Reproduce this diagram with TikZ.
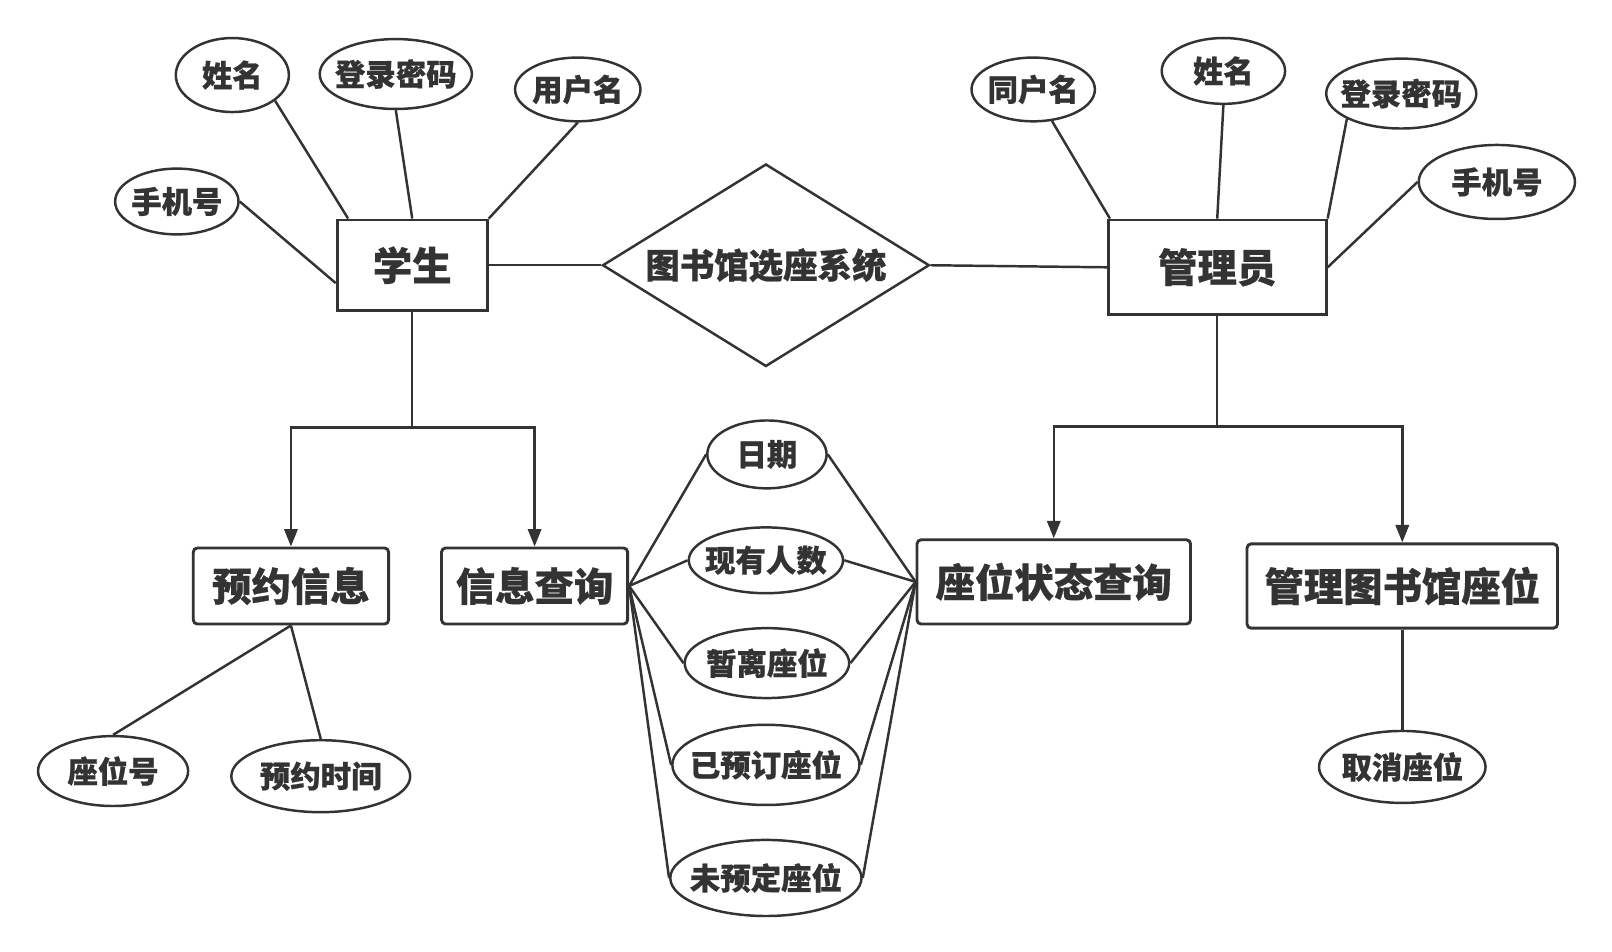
\documentclass[tikz,border=0pt]{standalone}
\usepackage{fontspec}
\newfontfamily\cjk{Noto Sans CJK SC}[BoldFeatures={FakeBold=0.6}]
\usetikzlibrary{shapes.geometric,arrows.meta}
\definecolor{ink}{HTML}{333333}
\newcommand\zb[1]{\makebox[0pt][c]{#1}}
\begin{document}
\begin{tikzpicture}[x=1pt,y=-1pt,
  attr/.style={ellipse, draw=ink, line width=2.4pt, inner sep=0pt, text=ink,
    font=\cjk\bfseries\fontsize{29.6}{29.6}\selectfont},
  ent/.style={rectangle, draw=ink, line width=2.8pt, inner sep=0pt, text=ink,
    font=\cjk\bfseries\fontsize{38.3}{38.3}\selectfont},
  fnbox/.style={ent, rounded corners=4pt},
  link/.style={draw=ink, line width=2.4pt},
  arr/.style={link, -{Triangle[length=17pt,width=13pt]}}]
\fill[white] (0,0) rectangle (1568,926);
\useasboundingbox (0,0) rectangle (1568,926);

% entities
\node[ent, minimum width=146pt, minimum height=88pt] (stu) at (401,258) {学生};
\node[ent, minimum width=212pt, minimum height=92pt] (adm) at (1184,260) {管理员};
\node[diamond, draw=ink, line width=2.4pt, inner sep=0pt, aspect=1.6, text=ink,
  minimum width=318pt, minimum height=197pt,
  font=\cjk\bfseries\fontsize{33.5}{33.5}\selectfont] (dia) at (745,258) {\zb{图书馆选座系统}};

% student attributes
\node[attr, minimum width=120pt, minimum height=64pt] (s1) at (172,196) {\zb{手机号}};
\node[attr, minimum width=110pt, minimum height=72pt] (s2) at (226,73) {\zb{姓名}};
\node[attr, minimum width=148pt, minimum height=68pt] (s3) at (385,72) {\zb{登录密码}};
\node[attr, minimum width=122pt, minimum height=62pt] (s4) at (562,87) {\zb{用户名}};

% admin attributes
\node[attr, minimum width=120pt, minimum height=62pt] (a1) at (1005,87) {\zb{同户名}};
\node[attr, minimum width=120pt, minimum height=64pt] (a2) at (1190,69) {\zb{姓名}};
\node[attr, minimum width=146pt, minimum height=68pt] (a3) at (1363,91) {\zb{登录密码}};
\node[attr, minimum width=152pt, minimum height=72pt] (a4) at (1456,177) {\zb{手机号}};

% function boxes
\node[fnbox, minimum width=190pt, minimum height=74pt] (yyxx) at (283,570) {预约信息};
\node[fnbox, minimum width=181pt, minimum height=74pt] (xxcx) at (520,570) {信息查询};
\node[fnbox, minimum width=266pt, minimum height=82pt] (zwzt) at (1025,566) {座位状态查询};
\node[fnbox, minimum width=302pt, minimum height=82pt] (glzw) at (1364,570) {管理图书馆座位};

% lower attributes
\node[attr, minimum width=146pt, minimum height=68pt] (zwh) at (110,750) {\zb{座位号}};
\node[attr, minimum width=174pt, minimum height=70pt] (yysj) at (312,755) {\zb{预约时间}};
\node[attr, minimum width=162pt, minimum height=70pt] (qxzw) at (1364,746) {\zb{取消座位}};

\node[attr, minimum width=116pt, minimum height=66pt] (m1) at (746,442) {\zb{日期}};
\node[attr, minimum width=150pt, minimum height=64pt] (m2) at (745,545) {\zb{现有人数}};
\node[attr, minimum width=160pt, minimum height=68pt] (m3) at (746,645) {\zb{暂离座位}};
\node[attr, minimum width=182pt, minimum height=78pt] (m4) at (745,744) {\zb{已预订座位}};
\node[attr, minimum width=186pt, minimum height=74pt] (m5) at (745,854) {\zb{未预定座位}};

% top connectors
\draw[link] (s1.east) -- ([yshift=28pt]stu.south west);
\draw[link] (s2.-31) -- ([xshift=12pt]stu.north west);
\draw[link] (s3.south) -- (stu.north);
\draw[link] (s4.south) -- (stu.north east);
\draw[link] (stu.east) -- (dia.west);
\draw[link] (dia.east) -- (adm.west);
\draw[link] (a1) -- ([xshift=3pt]adm.north west);
\draw[link] (a2.south) -- (adm.north);
\draw[link] (a3.205) -- (adm.north east);
\draw[link] (a4.west) -- (adm.east);

% tree connectors
\coordinate (sj) at (401,416);
\coordinate (aj) at (1184,415);
\draw[link] (stu.south) -- (sj);
\draw[arr] (sj) -| (yyxx.north);
\draw[arr] (sj) -| (xxcx.north);
\draw[link] (adm.south) -- (aj);
\draw[arr] (aj) -| (zwzt.north);
\draw[arr] (aj) -| (glzw.north);

\draw[link] (yyxx.south) -- (zwh.north);
\draw[link] (yyxx.south) -- (yysj.north);
\draw[link] (glzw.south) -- (qxzw.north);

\foreach \m in {m1,m2,m3,m4,m5}{
  \draw[link] (xxcx.east) -- (\m.west);
  \draw[link] (\m.east) -- (zwzt.west);
}
\end{tikzpicture}
\end{document}
